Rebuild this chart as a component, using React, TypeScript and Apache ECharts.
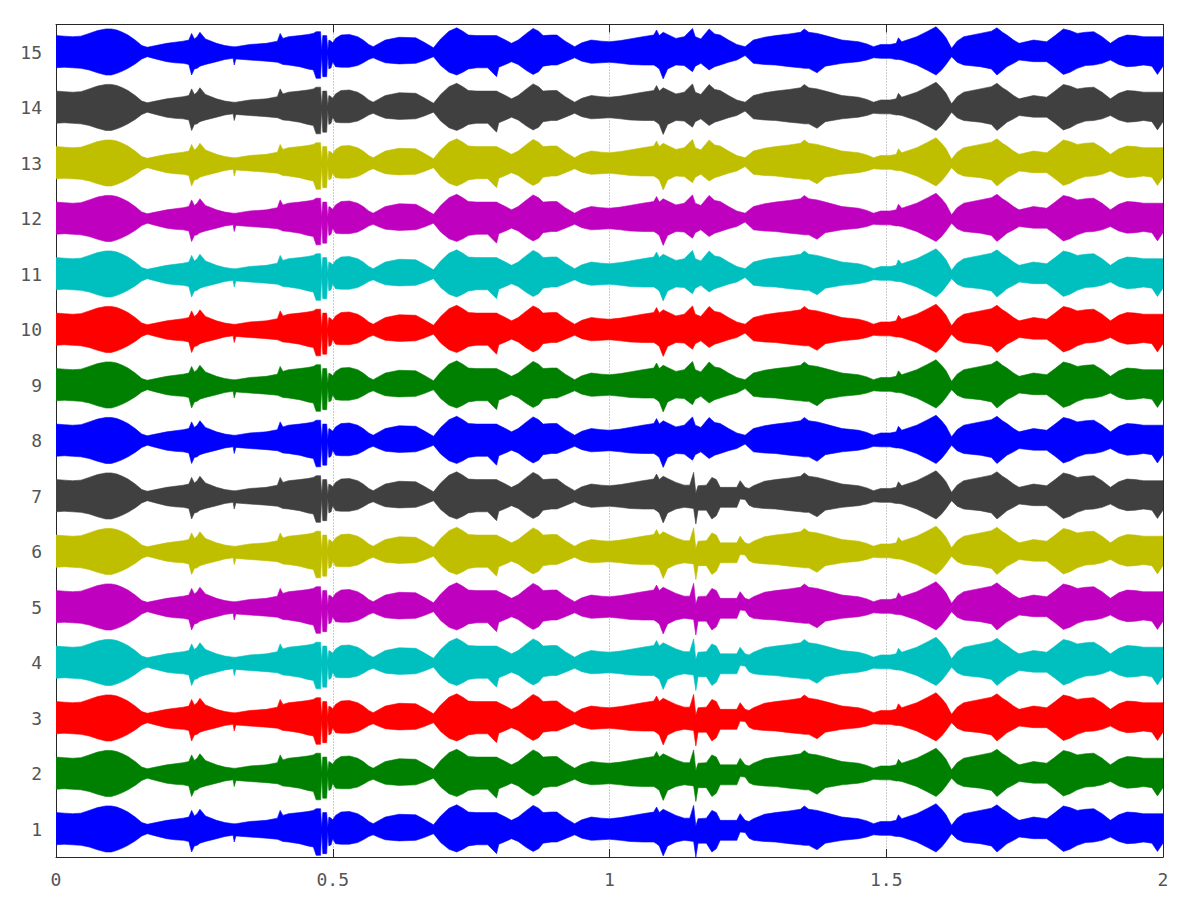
import React, { useEffect, useRef } from "react";
import * as echarts from "echarts";

// Envelope of the traces (x in seconds, upper / lower half-amplitude in y units)
const envX = [
  0.0, 0.015, 0.03, 0.045, 0.06, 0.075, 0.09, 0.1, 0.11, 0.12, 0.13, 0.143, 0.155, 0.165, 0.18, 0.2, 0.215, 0.23, 0.24, 0.245,
  0.25, 0.255, 0.26, 0.27, 0.29, 0.305, 0.32, 0.322, 0.325, 0.35, 0.38, 0.4, 0.405, 0.41, 0.42, 0.44, 0.455, 0.465, 0.47, 0.478,
  0.48, 0.482, 0.489, 0.491, 0.493, 0.497, 0.5, 0.505, 0.515, 0.53, 0.545, 0.555, 0.565, 0.573, 0.582, 0.595, 0.62, 0.65, 0.665, 0.682,
  0.695, 0.71, 0.724, 0.735, 0.745, 0.76, 0.78, 0.796, 0.8, 0.812, 0.823, 0.835, 0.85, 0.862, 0.872, 0.88, 0.895, 0.905, 0.92, 0.937,
  0.95, 0.967, 0.985, 1.0, 1.02, 1.037, 1.06, 1.08, 1.085, 1.09, 1.097, 1.105, 1.12, 1.135, 1.15, 1.155, 1.165, 1.18, 1.19, 1.2,
  1.215, 1.23, 1.245, 1.26, 1.28, 1.3, 1.325, 1.345, 1.352, 1.36, 1.375, 1.39, 1.42, 1.45, 1.465, 1.477, 1.49, 1.507, 1.518, 1.522,
  1.528, 1.555, 1.575, 1.59, 1.6, 1.608, 1.618, 1.628, 1.64, 1.67, 1.69, 1.7, 1.71, 1.718, 1.73, 1.74, 1.766, 1.79, 1.805, 1.82,
  1.832, 1.845, 1.86, 1.875, 1.89, 1.905, 1.92, 1.935, 1.95, 1.965, 1.98, 1.99, 2.0,
];
const envUp = [
  0.3, 0.29, 0.28, 0.29, 0.34, 0.39, 0.42, 0.42, 0.4, 0.36, 0.31, 0.22, 0.12, 0.09, 0.12, 0.16, 0.18, 0.2, 0.22, 0.34,
  0.24, 0.28, 0.36, 0.24, 0.16, 0.12, 0.1, 0.1, 0.1, 0.14, 0.16, 0.2, 0.34, 0.25, 0.28, 0.3, 0.32, 0.34, 0.37, 0.37,
  0.03, 0.3, 0.3, 0.03, 0.22, 0.2, 0.17, 0.25, 0.31, 0.32, 0.28, 0.22, 0.14, 0.1, 0.15, 0.22, 0.27, 0.26, 0.18, 0.08,
  0.24, 0.38, 0.44, 0.38, 0.31, 0.3, 0.3, 0.3, 0.28, 0.22, 0.16, 0.22, 0.34, 0.43, 0.38, 0.3, 0.31, 0.31, 0.2, 0.1,
  0.17, 0.22, 0.2, 0.19, 0.21, 0.24, 0.28, 0.31, 0.4, 0.3, 0.36, 0.32, 0.25, 0.28, 0.43, 0.28, 0.24, 0.42, 0.33, 0.31,
  0.22, 0.14, 0.1, 0.22, 0.27, 0.3, 0.33, 0.36, 0.42, 0.36, 0.34, 0.3, 0.22, 0.19, 0.15, 0.1, 0.14, 0.14, 0.16, 0.26,
  0.19, 0.28, 0.38, 0.46, 0.36, 0.26, 0.07, 0.2, 0.28, 0.34, 0.38, 0.44, 0.36, 0.31, 0.22, 0.16, 0.22, 0.19, 0.3, 0.42,
  0.39, 0.34, 0.36, 0.37, 0.28, 0.16, 0.26, 0.31, 0.3, 0.28, 0.28, 0.28, 0.28,
];
const envDn = [
  0.28, 0.27, 0.28, 0.29, 0.32, 0.37, 0.41, 0.41, 0.38, 0.34, 0.29, 0.21, 0.12, 0.08, 0.12, 0.17, 0.19, 0.2, 0.22, 0.41,
  0.3, 0.29, 0.25, 0.22, 0.17, 0.13, 0.11, 0.23, 0.12, 0.14, 0.16, 0.18, 0.2, 0.22, 0.23, 0.26, 0.3, 0.32, 0.47, 0.47,
  0.03, 0.44, 0.44, 0.03, 0.3, 0.28, 0.17, 0.26, 0.27, 0.27, 0.24, 0.19, 0.13, 0.1, 0.14, 0.19, 0.21, 0.2, 0.15, 0.08,
  0.24, 0.36, 0.41, 0.36, 0.3, 0.28, 0.28, 0.44, 0.27, 0.22, 0.17, 0.22, 0.33, 0.4, 0.35, 0.25, 0.23, 0.23, 0.17, 0.1,
  0.16, 0.2, 0.19, 0.18, 0.2, 0.22, 0.23, 0.23, 0.26, 0.3, 0.48, 0.3, 0.23, 0.24, 0.35, 0.25, 0.2, 0.32, 0.26, 0.23,
  0.18, 0.14, 0.06, 0.2, 0.22, 0.23, 0.26, 0.28, 0.29, 0.29, 0.37, 0.25, 0.2, 0.17, 0.14, 0.1, 0.11, 0.11, 0.13, 0.13,
  0.14, 0.23, 0.33, 0.41, 0.32, 0.22, 0.08, 0.18, 0.23, 0.26, 0.3, 0.41, 0.33, 0.26, 0.2, 0.14, 0.17, 0.17, 0.28, 0.4,
  0.36, 0.29, 0.24, 0.23, 0.2, 0.14, 0.22, 0.26, 0.25, 0.23, 0.25, 0.4, 0.25,
];

// Traces 1-7 differ between 1.135 s and 1.26 s
const patchX = [1.135, 1.145, 1.152, 1.156, 1.16, 1.175, 1.185, 1.193, 1.2, 1.23, 1.236, 1.245, 1.252, 1.26];
const patchUp = [0.2, 0.2, 0.43, 0.06, 0.19, 0.2, 0.34, 0.3, 0.16, 0.16, 0.28, 0.16, 0.14, 0.19];
const patchDn = [0.2, 0.21, 0.22, 0.5, 0.25, 0.25, 0.41, 0.35, 0.2, 0.2, 0.05, 0.06, 0.16, 0.2];

const traceIds = [1, 2, 3, 4, 5, 6, 7, 8, 9, 10, 11, 12, 13, 14, 15];
const traceColors = ["#0000ff", "#008000", "#ff0000", "#00bfbf", "#bf00bf", "#bfbf00", "#404040"];
const xTicks = [0, 0.5, 1, 1.5, 2];
const yTicks = [1, 2, 3, 4, 5, 6, 7, 8, 9, 10, 11, 12, 13, 14, 15];

type Pt = [number, number, number];

function envelopeFor(k: number): Pt[] {
  const base: Pt[] = envX.map((x, i) => [x, envUp[i], envDn[i]] as Pt);
  if (k > 7) return base;
  const lo = patchX[0];
  const hi = patchX[patchX.length - 1];
  const kept = base.filter((p) => p[0] < lo || p[0] > hi);
  const patch: Pt[] = patchX.map((x, i) => [x, patchUp[i], patchDn[i]] as Pt);
  return kept.concat(patch).sort((a, b) => a[0] - b[0]);
}

export default function App() {
  const ref = useRef<HTMLDivElement>(null);

  useEffect(() => {
    document.body.style.margin = "0";
    if (!ref.current) return;
    const chart = echarts.init(ref.current, undefined, { renderer: "svg" });
    const frame = "#262626";
    const labelStyle = {
      fontFamily: "DejaVu Sans Mono",
      fontSize: 18,
      color: "#555",
    };
    const option: any = {
      animation: false,
      backgroundColor: "#fff",
      grid: { left: 56, right: 37, top: 24.5, bottom: 43, containLabel: false, show: false },
      xAxis: [
        {
          type: "value",
          min: 0,
          max: 2,
          interval: 0.5,
          position: "bottom",
          axisLine: { show: true, onZero: false, lineStyle: { color: frame, width: 1 } },
          axisTick: { show: true, inside: true, length: 8, lineStyle: { color: frame } },
          axisLabel: { ...labelStyle, margin: 13, customValues: xTicks },
          splitLine: { show: true, lineStyle: { type: [1, 2], color: "#999", width: 1 } },
        },
        {
          type: "value",
          min: 0,
          max: 2,
          interval: 0.5,
          position: "top",
          axisLine: { show: true, onZero: false, lineStyle: { color: frame, width: 1 } },
          axisTick: { show: true, inside: true, length: 8, lineStyle: { color: frame } },
          axisLabel: { show: false },
          splitLine: { show: false },
        },
      ],
      yAxis: [
        {
          type: "value",
          min: 0.5,
          max: 15.5,
          position: "left",
          axisLine: { show: true, onZero: false, lineStyle: { color: frame, width: 1 } },
          axisTick: { show: true, inside: true, length: 8, customValues: yTicks, lineStyle: { color: frame } },
          axisLabel: { ...labelStyle, margin: 14, customValues: yTicks },
          splitLine: { show: false },
        },
        {
          type: "value",
          min: 0.5,
          max: 15.5,
          position: "right",
          axisLine: { show: true, onZero: false, lineStyle: { color: frame, width: 1 } },
          axisTick: { show: true, inside: true, length: 8, customValues: yTicks, lineStyle: { color: frame } },
          axisLabel: { show: false },
          splitLine: { show: false },
        },
      ],
      series: [
        {
          type: "custom",
          xAxisIndex: 0,
          yAxisIndex: 0,
          clip: true,
          silent: true,
          data: traceIds.map((k) => [0, k]),
          renderItem: (params: any, api: any) => {
            const k = api.value(1);
            const env = envelopeFor(k);
            const top = env.map((p) => api.coord([p[0], k + p[1]]));
            const bot = env
              .slice()
              .reverse()
              .map((p) => api.coord([p[0], k - p[2]]));
            const color = traceColors[(k - 1) % traceColors.length];
            return {
              type: "polygon",
              shape: { points: top.concat(bot) },
              style: { fill: color, stroke: color, lineWidth: 0.6 },
            };
          },
        },
      ],
    };
    chart.setOption(option);
    return () => chart.dispose();
  }, []);

  return <div ref={ref} style={{ width: 1200, height: 900 }} />;
}
